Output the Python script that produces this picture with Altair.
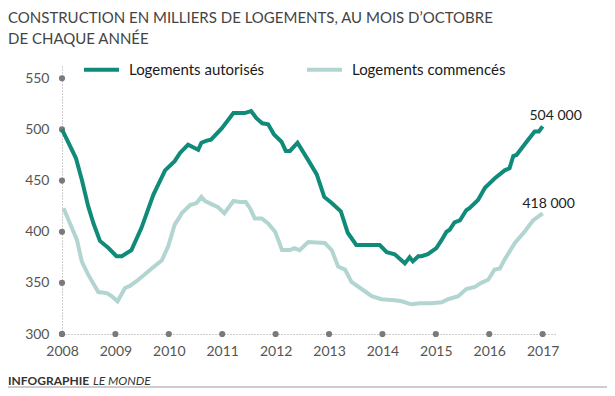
import altair as alt
import pandas as pd

# ---- data ----
aut_year = [2008.0, 2008.26, 2008.37, 2008.49, 2008.59, 2008.71, 2008.87, 2009.02, 2009.12, 2009.30,
            2009.49, 2009.71, 2009.93, 2010.11, 2010.21, 2010.36, 2010.55, 2010.61, 2010.71, 2010.79,
            2010.99, 2011.21, 2011.42, 2011.54, 2011.64, 2011.75, 2011.86, 2011.97, 2012.11, 2012.19,
            2012.27, 2012.41, 2012.61, 2012.77, 2012.91, 2013.05, 2013.22, 2013.35, 2013.51, 2013.95,
            2014.08, 2014.23, 2014.42, 2014.51, 2014.57, 2014.67, 2014.73, 2014.85, 2015.01, 2015.11,
            2015.20, 2015.26, 2015.35, 2015.45, 2015.57, 2015.63, 2015.79, 2015.92, 2016.10, 2016.29,
            2016.38, 2016.45, 2016.51, 2016.70, 2016.85, 2016.93, 2017.0]
aut_val = [500, 472, 451, 425, 408, 391, 384, 376, 376, 382,
           404, 436, 460, 469, 477, 485, 480, 487, 489, 490,
           501, 516, 516, 518, 511, 506, 505, 495, 488, 479,
           479, 487, 470, 456, 434, 428, 420, 399, 387, 387,
           380, 378, 369, 375, 371, 376, 376, 378, 384, 392,
           400, 402, 409, 411, 421, 423, 431, 443, 452, 460,
           462, 474, 475, 488, 498, 498, 503]

com_year = [2008.03, 2008.15, 2008.28, 2008.37, 2008.49, 2008.68, 2008.84, 2008.93, 2009.04, 2009.18,
            2009.27, 2009.43, 2009.68, 2009.87, 2009.99, 2010.11, 2010.21, 2010.24, 2010.40, 2010.52,
            2010.61, 2010.68, 2010.80, 2010.92, 2011.04, 2011.21, 2011.33, 2011.44, 2011.52, 2011.61,
            2011.74, 2011.86, 2011.99, 2012.05, 2012.12, 2012.27, 2012.35, 2012.45, 2012.61, 2012.92,
            2013.05, 2013.17, 2013.30, 2013.42, 2013.61, 2013.80, 2013.98, 2014.23, 2014.36, 2014.54,
            2014.70, 2014.92, 2015.11, 2015.23, 2015.42, 2015.57, 2015.73, 2015.85, 2015.98, 2016.10,
            2016.20, 2016.29, 2016.48, 2016.66, 2016.82, 2017.0]
com_val = [423, 408, 392, 371, 358, 341, 340, 337, 332, 345,
           347, 353, 364, 372, 386, 407, 415, 418, 426, 428,
           434, 430, 427, 424, 418, 430, 429, 429, 423, 413,
           413, 408, 400, 392, 382, 382, 384, 382, 390, 389,
           382, 366, 363, 351, 344, 337, 334, 333, 332, 329,
           330, 330, 331, 334, 337, 344, 346, 350, 353, 363,
           364, 373, 389, 400, 411, 418]

series_names = ["Logements autorisés", "Logements commencés"]
series_colors = ["#108a79", "#b2d5d2"]

y_ticks = [300, 350, 400, 450, 500, 550]
x_ticks = [2008, 2009, 2010, 2011, 2012, 2013, 2014, 2015, 2016, 2017]

end_years = [2017.0, 2017.0]
end_vals = [503, 418]
end_labels = ["504 000", "418 000"]

title_lines = ["CONSTRUCTION EN MILLIERS DE LOGEMENTS,  AU MOIS D’OCTOBRE", "DE CHAQUE ANNÉE"]

FONT = "Lato"

# ---- tables ----
lines_df = pd.concat([
    pd.DataFrame({"annee": aut_year, "valeur": aut_val, "serie": series_names[0]}),
    pd.DataFrame({"annee": com_year, "valeur": com_val, "serie": series_names[1]}),
])
dots_df = pd.concat([
    pd.DataFrame({"annee": [2008] * len(y_ticks), "valeur": y_ticks}),
    pd.DataFrame({"annee": x_ticks, "valeur": [300] * len(x_ticks)}),
])
end_df = pd.DataFrame({"annee": end_years, "valeur": end_vals, "label": end_labels})

x_scale = alt.Scale(domain=[2008, 2017.25], nice=False, zero=False)
y_scale = alt.Scale(domain=[300, 562], nice=False, zero=False)

x_axis = alt.Axis(values=x_ticks, format="d", ticks=False, domain=True, domainDash=[1, 2],
                  domainColor="#9a9a9a", domainWidth=1, labelPadding=10, labelFontSize=14,
                  labelColor="#555555", labelFont=FONT, labelFlush=False, grid=False, title=None)
y_axis = alt.Axis(values=y_ticks, ticks=False, domain=True, domainDash=[1, 2],
                  domainColor="#9a9a9a", domainWidth=1, labelPadding=13, labelFontSize=14,
                  labelColor="#555555", labelFont=FONT, labelFlush=False, grid=False, title=None)

base_x = alt.X("annee:Q", scale=x_scale, axis=x_axis)
base_y = alt.Y("valeur:Q", scale=y_scale, axis=y_axis)

dots = alt.Chart(dots_df).mark_circle(size=38, color="#7a7a7a", opacity=1).encode(
    x=base_x, y=base_y,
)

lines = alt.Chart(lines_df).mark_line(strokeWidth=4).encode(
    x=base_x,
    y=base_y,
    color=alt.Color(
        "serie:N",
        scale=alt.Scale(domain=series_names, range=series_colors),
        legend=alt.Legend(
            orient="none", legendX=20, legendY=-16, direction="horizontal", title=None,
            symbolType="stroke", symbolSize=1225, symbolStrokeWidth=4,
            labelFontSize=15, labelFont=FONT, labelColor="#1a1a1a", labelOffset=8,
            columnPadding=34, padding=0, labelLimit=300,
        ),
    ),
    order=alt.Order("annee:Q"),
    detail="serie:N",
)

end1 = alt.Chart(end_df.iloc[[0]]).mark_text(fontSize=14, font=FONT, color="#222222", align="center",
                                             dy=-10, dx=13).encode(
    x=alt.X("annee:Q", scale=x_scale),
    y=alt.Y("valeur:Q", scale=y_scale),
    text="label:N",
)
end2 = alt.Chart(end_df.iloc[[1]]).mark_text(fontSize=14, font=FONT, color="#222222", align="center",
                                             dy=-9, dx=6).encode(
    x=alt.X("annee:Q", scale=x_scale),
    y=alt.Y("valeur:Q", scale=y_scale),
    text="label:N",
)

footer_df = pd.DataFrame({"t1": ["INFOGRAPHIE"], "t2": ["LE MONDE"]})
foot1 = alt.Chart(footer_df).mark_text(fontSize=12, font=FONT, fontWeight="bold", color="#333333",
                                       align="left", baseline="middle").encode(
    x=alt.value(-54), y=alt.value(315), text="t1:N")
foot2 = alt.Chart(footer_df).mark_text(fontSize=12, font=FONT, fontStyle="italic", color="#333333",
                                       align="left", baseline="middle").encode(
    x=alt.value(31), y=alt.value(315), text="t2:N")
foot_rule = alt.Chart(footer_df).mark_rule(color="#9a9a9a", strokeWidth=1).encode(
    x=alt.value(-54), x2=alt.value(545), y=alt.value(321))

chart = alt.layer(dots, lines, end1, end2, foot1, foot2, foot_rule).properties(
    width=494, height=268,
    padding={"left": 54, "top": 58, "right": 51, "bottom": 54},
    autosize=alt.AutoSizeParams(type="none"),
    title=alt.TitleParams(
        text=title_lines, anchor="start", frame="group", dx=-54, offset=3,
        fontSize=15, font=FONT, fontWeight="normal", color="#444444", lineHeight=21,
    ),
).configure_view(stroke=None)

chart.save("out.html", embed_options={"renderer": "svg", "actions": False})
